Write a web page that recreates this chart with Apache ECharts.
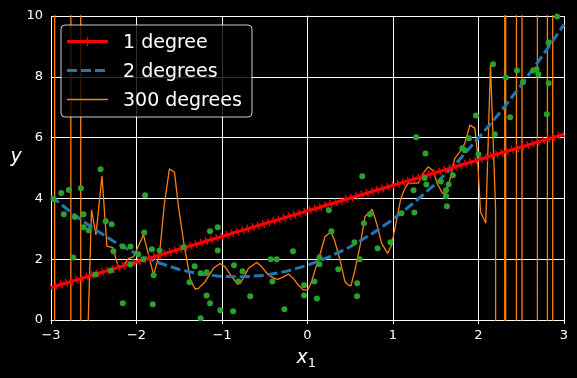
<!DOCTYPE html>
<html>
<head>
<meta charset="utf-8">
<script src="https://cdn.jsdelivr.net/npm/echarts@6/dist/echarts.min.js"></script>
<style>
  html, body { margin: 0; padding: 0; background: #000; }
  #main { width: 577px; height: 378px; }
</style>
</head>
<body>
<div id="main"></div>
<script>
// training points (x, y)
var ptsX = [-2.97, -2.88, -2.79, -2.65, -2.85, -2.72, -2.62, -2.62, -2.56, -2.74,
  -2.42, -2.36, -2.29, -2.27, -2.16, -2.07, -2.07, -1.98, -2.48, -2.30, -2.16,
  -1.90, -1.91, -1.92, -1.82, -1.73, -1.80, -1.81, -1.45, -1.32, -1.38, -1.25,
  -1.18, -1.14, -1.05, -1.05, -1.18, -1.14, -1.02, -1.25,
  -0.86, -0.76, -0.81, -0.67, -0.87, -0.43, -0.36, -0.17, -0.41, -0.27, -0.04,
  -0.04, 0.08, 0.11, 0.14, 0.14,
  0.25, 0.64, 0.28, 0.36, 0.55, 0.61, 0.58, 0.58, 0.66, 0.73, 0.82, 0.97, 1.10,
  1.27, 1.38, 1.37, 1.39, 1.24, 1.25, 1.56, 1.65, 1.62, 1.62, 1.63, 1.70, 1.81,
  1.84, 1.89, 1.97, 2.00,
  2.17, 2.32, 2.45, 2.52, 2.37, 2.19, 2.64, 2.68, 2.70, 2.82, 2.82, 2.80, 2.92];
var ptsY = [3.98, 4.18, 4.28, 4.33, 3.48, 3.39, 3.48, 3.05, 2.95, 2.06,
  4.96, 3.25, 3.15, 2.26, 2.42, 2.42, 1.83, 2.16, 1.50, 1.63, 0.55,
  4.10, 2.88, 2.00, 2.33, 2.29, 1.47, 0.52, 2.39, 1.77, 1.24, 1.54,
  1.57, 2.92, 3.05, 2.29, 0.81, 0.55, 0.32, 0.06,
  1.80, 1.60, 1.27, 0.78, 0.29, 2.00, 2.00, 2.26, 1.27, 0.35, 1.14,
  0.81, 1.27, 0.71, 2.06, 1.83,
  3.61, 4.73, 2.92, 1.67, 2.56, 2.00, 1.21, 0.78, 3.18, 3.48, 2.36, 2.56, 3.51,
  6.01, 5.48, 4.67, 4.46, 4.27, 3.54, 4.56, 4.46, 4.27, 4.07, 3.74, 4.76, 5.65,
  5.58, 5.98, 6.73, 5.45,
  8.41, 7.98, 8.21, 7.82, 6.67, 6.11, 8.21, 8.25, 8.08, 9.13, 7.79, 6.77, 9.98];

// degree 1 fit: end points
var deg1X = [-3, 3];
var deg1Y = [1.07, 6.11];

// degree 2 fit
var deg2X = [-3, -2.75, -2.5, -2.25, -2, -1.75, -1.5, -1.25, -1, -0.75, -0.5, -0.25,
  0, 0.25, 0.5, 0.75, 1, 1.25, 1.5, 1.75, 2, 2.25, 2.5, 2.75, 3];
var deg2Y = [4.07, 3.51, 3.0, 2.56, 2.17, 1.89, 1.66, 1.51, 1.43, 1.42, 1.47, 1.60,
  1.80, 2.07, 2.41, 2.83, 3.31, 3.87, 4.49, 5.19, 5.99, 6.82, 7.73, 8.70, 9.72];

// degree 300 fit (runs far off the chart at both ends)
var deg300X = [-3, -2.958, -2.956, -2.769, -2.767, -2.653, -2.651, -2.576,
  -2.526, -2.474, -2.404, -2.346, -2.276, -2.217, -2.152, -2.093, -2.035, -1.918,
  -1.80, -1.73, -1.673, -1.615, -1.556, -1.509, -1.44, -1.369, -1.314, -1.276,
  -1.197, -1.10, -1.022, -0.964, -0.886, -0.82, -0.785, -0.69, -0.593, -0.535,
  -0.458, -0.388, -0.341, -0.283, -0.224, -0.166, -0.108, -0.05, 0.002, 0.041,
  0.088, 0.138, 0.204, 0.274, 0.321, 0.38, 0.438, 0.477, 0.508, 0.555, 0.613,
  0.672, 0.73, 0.757, 0.808, 0.867, 0.937, 0.984, 1.042, 1.092, 1.139, 1.178,
  1.294, 1.353, 1.411, 1.47, 1.516, 1.568, 1.606, 1.665, 1.723, 1.782, 1.84,
  1.899, 1.957, 1.984, 2.023, 2.085, 2.14, 2.20,
  2.225, 2.306, 2.308, 2.326, 2.328, 2.443, 2.445, 2.508, 2.510, 2.688, 2.690,
  2.805, 2.807, 2.867, 2.869, 3];
var deg300Y = [300, 300, -300, -300, 300, 300, -300, -1.1,
  3.62, 2.80, 4.74, 2.43, 2.38, 1.78, 1.78, 2.03, 2.08, 2.80,
  1.48, 2.19, 3.84, 4.97, 4.86, 3.73, 2.41, 1.32, 1.02, 1.04,
  1.26, 1.70, 1.86, 1.75, 1.43, 1.18, 1.21, 1.70, 1.89, 1.75,
  1.48, 1.37, 1.34, 1.42, 1.51, 1.37, 1.15, 0.99, 0.99, 1.21,
  1.64, 2.08, 2.74, 2.90, 2.58, 1.97, 1.26, 1.15, 1.12, 1.64, 2.41,
  3.40, 3.56, 3.64, 3.18, 2.52, 2.19, 2.47, 3.29, 4.00, 4.33, 4.50,
  4.50, 4.83, 5.04, 4.91, 4.50, 4.22, 4.11, 4.61, 5.32, 5.54, 5.81,
  6.41, 6.31, 5.59, 3.56, 3.18, 8.39, 3.62,
  -300, -300, 300, 300, -300, -300, 300, 300, -300, -300, 300,
  300, -300, -300, 300, 300];

var xTicks = [-3, -2, -1, 0, 1, 2, 3];
var yTicks = [0, 2, 4, 6, 8, 10];

function zip(a, b) {
  var out = [];
  for (var i = 0; i < a.length; i++) out.push([a[i], b[i]]);
  return out;
}

var FONT = 'DejaVu Sans';
var chart = echarts.init(document.getElementById('main'), null, { renderer: 'canvas' });

var option = {
  backgroundColor: '#000',
  animation: false,
  grid: { left: 51, right: 13, top: 16, bottom: 58 },
  xAxis: {
    type: 'value',
    min: xTicks[0], max: xTicks[xTicks.length - 1], interval: 1,
    axisLine: { lineStyle: { color: '#fff', width: 1 } },
    axisTick: { show: true, length: 4, lineStyle: { color: '#fff' } },
    axisLabel: {
      color: '#fff', fontSize: 13, fontFamily: FONT, margin: 9,
      formatter: function (v) { return String(v).replace('-', '\u2212'); }
    },
    splitLine: { show: true, lineStyle: { color: '#fff', width: 1 } }
  },
  yAxis: {
    type: 'value',
    min: yTicks[0], max: yTicks[yTicks.length - 1], interval: 2,
    axisLine: { show: true, lineStyle: { color: '#fff', width: 1 } },
    axisTick: { show: true, length: 4, lineStyle: { color: '#fff' } },
    axisLabel: { color: '#fff', fontSize: 13, fontFamily: FONT, margin: 8 },
    splitLine: { show: true, lineStyle: { color: '#fff', width: 1 } }
  },
  series: [
    {
      name: '300 degrees', type: 'line', z: 2, symbol: 'none', clip: true,
      data: zip(deg300X, deg300Y),
      lineStyle: { color: '#ff7f0e', width: 1.3 }
    },
    {
      name: '2 degrees', type: 'line', z: 3, symbol: 'none',
      data: zip(deg2X, deg2Y),
      lineStyle: { color: '#1f77b4', width: 3, type: [10, 4] }
    },
    {
      name: '1 degree', type: 'line', z: 4, symbol: 'none',
      data: zip(deg1X, deg1Y),
      lineStyle: { color: '#ff0000', width: 3 }
    },
    {
      // the "+" markers along the degree-1 line
      name: '1 degree marks', type: 'line', z: 4, symbol: 'none',
      data: zip(deg1X, deg1Y),
      lineStyle: { color: '#ff0000', width: 8, type: [1.3, 4.11], dashOffset: 0.65 }
    },
    {
      name: 'data', type: 'scatter', z: 5,
      data: zip(ptsX, ptsY),
      symbolSize: 6,
      itemStyle: { color: '#2ca02c', opacity: 1 }
    }
  ],
  graphic: [
    {
      type: 'rect', z: 100,
      shape: { x: 61, y: 25, width: 191, height: 92, r: 4 },
      style: { fill: 'rgba(0,0,0,0.8)', stroke: 'rgba(255,255,255,0.8)', lineWidth: 1 }
    },
    { type: 'line', z: 101, shape: { x1: 67, y1: 41.5, x2: 108, y2: 41.5 },
      style: { stroke: '#ff0000', lineWidth: 3 } },
    { type: 'line', z: 101, shape: { x1: 87.5, y1: 37, x2: 87.5, y2: 46 },
      style: { stroke: '#ff0000', lineWidth: 1.3 } },
    { type: 'line', z: 101, shape: { x1: 67, y1: 70.5, x2: 108, y2: 70.5 },
      style: { stroke: '#1f77b4', lineWidth: 3, lineDash: [10, 4] } },
    { type: 'line', z: 101, shape: { x1: 67, y1: 99.5, x2: 108, y2: 99.5 },
      style: { stroke: '#ff7f0e', lineWidth: 1.3 } },
    { type: 'text', z: 101, x: 123, y: 43,
      style: { text: '1 degree', fill: '#fff', font: '19px "DejaVu Sans"', textVerticalAlign: 'middle' } },
    { type: 'text', z: 101, x: 123, y: 72,
      style: { text: '2 degrees', fill: '#fff', font: '19px "DejaVu Sans"', textVerticalAlign: 'middle' } },
    { type: 'text', z: 101, x: 123, y: 101,
      style: { text: '300 degrees', fill: '#fff', font: '19px "DejaVu Sans"', textVerticalAlign: 'middle' } },
    // axis labels
    { type: 'text', z: 101, x: 302, y: 358,
      style: { text: 'x', fill: '#fff', font: 'italic 19px "DejaVu Sans"', textAlign: 'center', textVerticalAlign: 'middle' } },
    { type: 'text', z: 101, x: 312, y: 364,
      style: { text: '1', fill: '#fff', font: '13px "DejaVu Sans"', textAlign: 'center', textVerticalAlign: 'middle' } },
    { type: 'text', z: 101, x: 16, y: 157,
      style: { text: 'y', fill: '#fff', font: 'italic 19px "DejaVu Sans"', textAlign: 'center', textVerticalAlign: 'middle' } }
  ]
};

chart.setOption(option);
</script>
</body>
</html>
